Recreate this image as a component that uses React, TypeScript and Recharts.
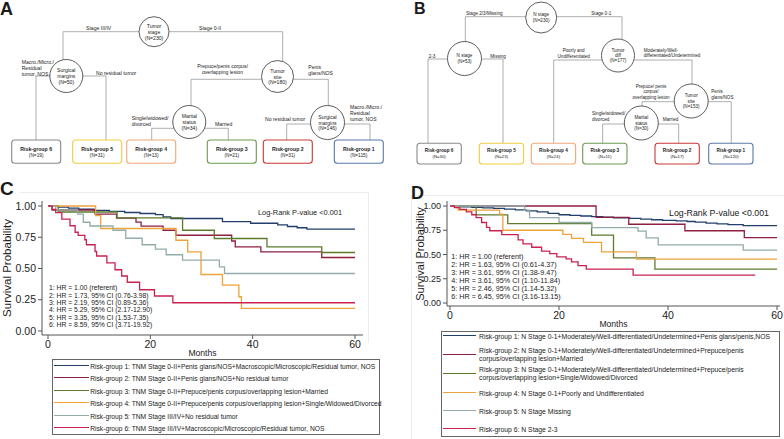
import React from "react";
import { LineChart, Line, XAxis, YAxis } from "recharts";

type Step = [number, number];

const monthTicks = [0, 20, 40, 60];
const survivalTicks = [0, 0.25, 0.5, 0.75, 1];

// panel C (TNM stage tree), [months, survival]
const cGroup1: Step[] = [[0, 1], [2, 0.991], [4, 0.983], [6, 0.974], [9, 0.965], [12, 0.957], [15, 0.948], [18, 0.94], [21, 0.931], [22.5, 0.913], [24, 0.9], [34.1, 0.875], [39.6, 0.862], [44.9, 0.849], [46.8, 0.836], [48.7, 0.826], [50.6, 0.815], [60, 0.815]];
const cGroup2: Step[] = [[0, 1], [0.8, 0.968], [9.2, 0.935], [13.4, 0.903], [17.2, 0.871], [18.2, 0.839], [22.5, 0.806], [25, 0.766], [35.9, 0.72], [36.6, 0.673], [41.6, 0.633], [53.5, 0.588], [60, 0.588]];
const cGroup3: Step[] = [[0, 1], [2, 0.952], [13.5, 0.905], [26.3, 0.806], [32.5, 0.74], [42.8, 0.673], [53.5, 0.628], [60, 0.628]];
const cGroup4: Step[] = [[0, 1], [9.3, 0.923], [10.3, 0.82], [25, 0.726], [27.3, 0.633], [29.9, 0.452], [34.1, 0.367], [37.3, 0.274], [37.8, 0.181], [60, 0.181]];
const cGroup5: Step[] = [[0, 1], [1.5, 0.968], [5.8, 0.935], [6.9, 0.87], [8.2, 0.84], [12.7, 0.806], [15.2, 0.742], [18.4, 0.69], [21, 0.655], [23.1, 0.61], [26.3, 0.567], [33.5, 0.513], [34.5, 0.46], [60, 0.46]];
const cGroup6: Step[] = [[0, 1], [0.8, 0.973], [1.5, 0.947], [2.7, 0.895], [4.3, 0.842], [5.3, 0.79], [5.9, 0.765], [7.2, 0.73], [7.5, 0.69], [9.2, 0.636], [9.5, 0.6], [11.5, 0.545], [13.1, 0.49], [14.4, 0.44], [15.5, 0.39], [17.9, 0.33], [20.8, 0.28], [24.4, 0.226], [60, 0.226]];

// panel D (N stage tree)
const dGroup1: Step[] = [[0, 1], [1, 0.995], [2, 0.99], [4, 0.985], [6, 0.98], [8, 0.975], [10, 0.968], [12, 0.96], [14, 0.95], [16, 0.94], [18, 0.925], [20, 0.91], [22, 0.903], [24, 0.897], [26, 0.89], [28, 0.884], [30, 0.878], [33, 0.872], [35, 0.865], [37, 0.858], [39, 0.852], [41.5, 0.846], [43.5, 0.84], [45, 0.833], [47, 0.823], [49, 0.815], [51, 0.808], [53.8, 0.798], [60, 0.798]];
const dGroup2: Step[] = [[0, 1], [26.8, 0.882], [32.8, 0.812], [43.1, 0.745], [54, 0.675], [60, 0.675]];
const dGroup3: Step[] = [[0, 1], [4.8, 0.909], [10.6, 0.818], [26, 0.7], [30, 0.465], [37.6, 0.35], [60, 0.35]];
const dGroup4: Step[] = [[0, 1], [1.5, 0.958], [9.1, 0.917], [9.7, 0.75], [20.7, 0.708], [22.3, 0.667], [24.5, 0.625], [27.8, 0.527], [34.2, 0.452], [60, 0.452]];
const dGroup5: Step[] = [[0, 1], [13.7, 0.957], [14.6, 0.88], [20, 0.83], [26, 0.778], [34.5, 0.74], [36, 0.671], [38.2, 0.6], [53.8, 0.545], [60, 0.545]];
const dGroup6: Step[] = [[0, 1], [0.8, 0.983], [1.8, 0.966], [3, 0.94], [4, 0.91], [4.8, 0.88], [5.8, 0.83], [6.7, 0.78], [7.3, 0.745], [9.5, 0.705], [12.5, 0.65], [13.4, 0.61], [15, 0.575], [16.8, 0.535], [18.3, 0.51], [19.6, 0.475], [21.3, 0.455], [22.3, 0.425], [23.5, 0.385], [25, 0.35], [33.6, 0.288], [56, 0.288]];

const groupColors = ["#223f6c", "#8e1f3f", "#5c7b2c", "#eea23a", "#93aba9", "#c9224f"];
const leafColors = ["#5878a8", "#c83838", "#6c9a50", "#f0a878", "#f0cd40", "#8a8a8a"];

const cHazards = [
  "1: HR = 1.00 (referent)",
  "2: HR = 1.73, 95% CI (0.76-3.98)",
  "3: HR = 2.19, 95% CI (0.89-5.36)",
  "4: HR = 5.29, 95% CI (2.17-12.90)",
  "5: HR = 3.35, 95% CI (1.53-7.35)",
  "6: HR = 8.59, 95% CI (3.71-19.92)"
];
const dHazards = [
  "1: HR = 1.00 (referent)",
  "2: HR = 1.63, 95% CI (0.61-4.37)",
  "3: HR = 3.61, 95% CI (1.38-9.47)",
  "4: HR = 3.61, 95% CI (1.10-11.84)",
  "5: HR = 2.46, 95% CI (1.14-5.32)",
  "6: HR = 6.45, 95% CI (3.16-13.15)"
];

const cLegend = [
  ["Risk-group 1: TNM Stage 0-II+Penis glans/NOS+Macroscopic/Microscopic/Residual tumor, NOS"],
  ["Risk-group 2: TNM Stage 0-II+Penis glans/NOS+No residual tumor"],
  ["Risk-group 3: TNM Stage 0-II+Prepuce/penis corpus/overlapping lesion+Married"],
  ["Risk-group 4: TNM Stage 0-II+Prepuce/penis corpus/overlapping lesion+Single/Widowed/Divorced"],
  ["Risk-group 5: TNM Stage III/IV+No residual tumor"],
  ["Risk-group 6: TNM Stage III/IV+Macroscopic/Microscopic/Residual tumor, NOS"]
];
const dLegend = [
  ["Risk-group 1: N Stage 0-1+Moderately/Well-differentiated/Undetermined+Penis glans/penis,NOS"],
  ["Risk-group 2: N Stage 0-1+Moderately/Well-differentiated/Undetermined+Prepuce/penis", "corpus/overlapping lesion+Married"],
  ["Risk-group 3: N Stage 0-1+Moderately/Well-differentiated/Undetermined+Prepuce/penis", "corpus/overlapping lesion+Single/Widowed/Divorced"],
  ["Risk-group 4: N Stage 0-1+Poorly and Undifferentiated"],
  ["Risk-group 5: N Stage Missing"],
  ["Risk-group 6: N Stage 2-3"]
];

// leaf sizes, left to right (risk group 6 .. 1)
const treeALeafN = [19, 31, 13, 21, 31, 115];
const treeBLeafN = [30, 23, 24, 11, 17, 120];

const font = '"Liberation Sans", Arial, sans-serif';

const toPoints = (steps: Step[]) => steps.map(([m, s]) => ({ m, s }));
const cSeries = [cGroup1, cGroup2, cGroup3, cGroup4, cGroup5, cGroup6].map(toPoints);
const dSeries = [dGroup1, dGroup2, dGroup3, dGroup4, dGroup5, dGroup6].map(toPoints);

function Txt({ x, y, size, children, anchor = "start", weight = 400, rotate = false }: any) {
  const tx = anchor === "middle" ? "-50%" : "0";
  return (
    <div
      style={{
        position: "absolute",
        left: x,
        top: y,
        fontSize: size,
        fontWeight: weight,
        lineHeight: 1,
        whiteSpace: "nowrap",
        color: "#1a1a1a",
        transform: rotate ? "translate(-50%,-50%) rotate(-90deg)" : `translate(${tx},-50%)`
      }}
    >
      {children}
    </div>
  );
}

function KmChart({ series, left, top, width, height, yWidth, right, xPad, yPad, tickSize, yTickSize }: any) {
  const axisStroke = "#555";
  return (
    <div style={{ position: "absolute", left, top }}>
      <LineChart width={width} height={height} margin={{ top: 6, right, bottom: 0, left: 0 }}>
        <XAxis
          dataKey="m"
          type="number"
          domain={[0, 60]}
          ticks={monthTicks}
          padding={xPad}
          height={24}
          tickSize={4}
          stroke={axisStroke}
          tick={{ fill: "#222", fontSize: tickSize }}
          label={{ value: "Months", position: "insideBottom", offset: 3, fill: "#222", fontSize: 8.6 }}
        />
        <XAxis xAxisId="top" orientation="top" type="number" domain={[0, 60]} padding={xPad} height={0} tick={false} tickLine={false} stroke={axisStroke} />
        <YAxis
          type="number"
          domain={[0, 1]}
          ticks={survivalTicks}
          padding={yPad}
          width={yWidth}
          tickSize={4}
          stroke={axisStroke}
          tick={{ fill: "#222", fontSize: yTickSize }}
          tickFormatter={(v: number) => v.toFixed(2)}
        />
        <YAxis yAxisId="right" orientation="right" type="number" domain={[0, 1]} padding={yPad} width={0} tick={false} tickLine={false} stroke={axisStroke} />
        {series.map((pts: any, i: number) => (
          <Line
            key={i}
            data={pts}
            dataKey="s"
            type="stepAfter"
            stroke={groupColors[i]}
            strokeWidth={1.3}
            dot={false}
            isAnimationActive={false}
          />
        ))}
      </LineChart>
    </div>
  );
}

function LegendBox({ items, left, top, width, height, rowTops, lineX, textX, size }: any) {
  return (
    <div style={{ position: "absolute", left, top, width, height, border: "1px solid #666", boxSizing: "border-box" }}>
      {items.map((lines: string[], i: number) => (
        <React.Fragment key={i}>
          <div
            style={{
              position: "absolute",
              left: lineX[0],
              width: lineX[1] - lineX[0],
              top: rowTops[i] - 1,
              borderTop: `1.3px solid ${groupColors[i]}`
            }}
          />
          {lines.map((t, j) => (
            <Txt key={j} x={textX} y={rowTops[i] + (lines.length > 1 ? -4 + j * 8.3 : 1)} size={size}>
              {t}
            </Txt>
          ))}
        </React.Fragment>
      ))}
    </div>
  );
}

function Node({ cx, cy, r, lines, size }: any) {
  const gap = size * 1.17;
  const start = cy - ((lines.length - 1) * gap) / 2;
  return (
    <g>
      <circle cx={cx} cy={cy} r={r} fill="#fff" stroke="#333" strokeWidth={0.8} />
      {lines.map((t: string, i: number) => (
        <text key={i} x={cx} y={start + i * gap} textAnchor="middle" dominantBaseline="central" fontSize={size}>
          {t}
        </text>
      ))}
    </g>
  );
}

function Leaf({ x, y, w, h, group, n, size }: any) {
  return (
    <g>
      <rect x={x} y={y} width={w} height={h} rx={3} fill="#fff" stroke={leafColors[group - 1]} strokeWidth={1.1} />
      <text x={x + w / 2} y={y + h * 0.37} textAnchor="middle" dominantBaseline="central" fontSize={size} fontWeight={700}>
        {`Risk-group ${group}`}
      </text>
      <text x={x + w / 2} y={y + h * 0.66} textAnchor="middle" dominantBaseline="central" fontSize={size * 0.92}>
        {`(N=${n})`}
      </text>
    </g>
  );
}

function EdgeLabel({ x, y, lines, size, anchor = "start", gap = 6 }: any) {
  return (
    <>
      {lines.map((t: string, i: number) => (
        <text key={i} x={x} y={y + i * gap} textAnchor={anchor} dominantBaseline="central" fontSize={size}>
          {t}
        </text>
      ))}
    </>
  );
}

function Trees() {
  const a = 5.1;
  const b = 4.6;
  const aLeafX = [11.7, 72.7, 126.7, 207.3, 263.3, 334.3];
  const bLeafX = [417, 479.3, 531.3, 582.7, 655, 708.7];
  return (
    <svg width={784} height={170} style={{ position: "absolute", left: 0, top: 0, fontFamily: font }} fill="#222">
      <g stroke="#9a9a9a" strokeWidth={0.8} fill="none">
        <path d="M63 31.7H282.7M63 31.7V60M282.7 31.7V61M36 76H106M36 76V140M106 76V140M191 79.3H328.3M191 79.3V106M328.3 79.3V106M151.7 128.3H228.3M151.7 128.3V140M228.3 128.3V140M286.7 124H370M286.7 124V140M370 124V140" />
        <path d="M465.3 16.7H622M465.3 16.7V42M622 16.7V39M428 59H503M428 59V143.3M503 59V143.3M553.7 60H692M553.7 60V143.3M692 60V85M642 101.7H731.3M642 101.7V106M731.3 101.7V143.3M602.7 124H678.7M602.7 124V143.3M678.7 124V143.3" />
      </g>

      <Node cx={154} cy={31.7} r={15} lines={["Tumor", "stage", "(N=230)"]} size={a} />
      <Node cx={66.3} cy={76} r={16.5} lines={["Surgical", "margins", "(N=50)"]} size={a} />
      <Node cx={277.5} cy={76.5} r={16} lines={["Tumor", "site", "(N=180)"]} size={a} />
      <Node cx={189.3} cy={122} r={16.5} lines={["Marital", "status", "(N=34)"]} size={a} />
      <Node cx={327.5} cy={122.5} r={17} lines={["Surgical", "margins", "(N=146)"]} size={a} />

      <EdgeLabel x={86} y={28.3} lines={["Stage III/IV"]} size={a} />
      <EdgeLabel x={199} y={28.3} lines={["Stage 0-II"]} size={a} />
      <EdgeLabel x={21.7} y={62.3} lines={["Macro./Micro./", "Residual", "tumor, NOS"]} size={a} />
      <EdgeLabel x={96} y={72.7} lines={["No residual tumor"]} size={a} />
      <EdgeLabel x={222.5} y={66} lines={["Prepuce/penis corpus/", "overlapping lesion"]} size={a} anchor="middle" />
      <EdgeLabel x={308.3} y={66.7} lines={["Penis", "glans/NOS"]} size={a} />
      <EdgeLabel x={131.7} y={118.3} lines={["Single/widowed/", "divorced"]} size={a} />
      <EdgeLabel x={215} y={124.3} lines={["Married"]} size={a} />
      <EdgeLabel x={265} y={119} lines={["No residual tumor"]} size={a} />
      <EdgeLabel x={350} y={107.3} lines={["Macro./Micro./", "Residual", "tumor, NOS"]} size={a} gap={5.7} />

      {treeALeafN.map((n, i) => (
        <Leaf key={i} x={aLeafX[i]} y={140} w={49} h={23.3} group={6 - i} n={n} size={5.2} />
      ))}

      <Node cx={541.2} cy={17.5} r={15.5} lines={["N stage", "(N=230)"]} size={b} />
      <Node cx={464.5} cy={58.5} r={17} lines={["N stage", "(N=53)"]} size={b} />
      <Node cx={618} cy={55.5} r={16.5} lines={["Tumor", "diff", "(N=177)"]} size={b} />
      <Node cx={691.2} cy={101} r={17} lines={["Tumor", "site", "(N=153)"]} size={b} />
      <Node cx={641.3} cy={123} r={17} lines={["Marital", "status", "(N=30)"]} size={b} />

      <EdgeLabel x={466} y={13.3} lines={["Stage 2/3/Missing"]} size={b} />
      <EdgeLabel x={591.3} y={13.3} lines={["Stage 0-1"]} size={b} />
      <EdgeLabel x={428.7} y={56.7} lines={["2-3"]} size={b} />
      <EdgeLabel x={490.3} y={56.7} lines={["Missing"]} size={b} />
      <EdgeLabel x={573.7} y={50.7} lines={["Poorly and", "Undifferentiated"]} size={b} anchor="middle" />
      <EdgeLabel x={643.7} y={50} lines={["Moderately/Well-", "differentiated/Undetermined"]} size={b} gap={5.4} />
      <EdgeLabel x={651} y={86} lines={["Prepuce/ penis", "corpus/", "overlapping lesion"]} size={b} anchor="middle" gap={5.6} />
      <EdgeLabel x={711.3} y={91.7} lines={["Penis", "glans/NOS"]} size={b} gap={5.6} />
      <EdgeLabel x={592} y={113.3} lines={["Single/widowed/", "divorced"]} size={b} gap={5.7} />
      <EdgeLabel x={662.7} y={119} lines={["Married"]} size={b} />

      {treeBLeafN.map((n, i) => (
        <Leaf key={i} x={bLeafX[i]} y={143.3} w={44.3} h={20.7} group={6 - i} n={n} size={4.7} />
      ))}
    </svg>
  );
}

export default function App() {
  return (
    <div style={{ position: "relative", width: 784, height: 439, background: "#fff", fontFamily: font, overflow: "hidden" }}>
      <style>{"body{margin:0}"}</style>
      <Trees />

      <div style={{ position: "absolute", left: 20, top: 192, width: 348, height: 150, borderTop: "1px solid #ececec", borderRight: "1px solid #ececec" }} />
      <div style={{ position: "absolute", left: 411, top: 195, width: 373, height: 244, borderTop: "1px solid #ececec", borderLeft: "1px solid #ececec" }} />

      <Txt x={0} y={8.5} size={18} weight={700}>A</Txt>
      <Txt x={414} y={9} size={16} weight={700}>B</Txt>
      <Txt x={0} y={187.5} size={19} weight={700}>C</Txt>
      <Txt x={411} y={192.5} size={18} weight={700}>D</Txt>

      <KmChart series={cSeries} left={0} top={195} width={370} height={164} yWidth={42} right={7} xPad={{ left: 6, right: 8 }} yPad={{ top: 5, bottom: 4 }} tickSize={10.5} yTickSize={10.5} />
      <Txt x={8} y={268} size={11.5} rotate>Survival Probability</Txt>
      <Txt x={258} y={213.3} size={7.4}>Log-Rank P-value &lt;0.001</Txt>
      {cHazards.map((t, i) => (
        <Txt key={i} x={49} y={288.3 + i * 7.35} size={6.8}>{t}</Txt>
      ))}

      <KmChart series={dSeries} left={400} top={195} width={384} height={135} yWidth={47} right={4} xPad={{ left: 3, right: 3 }} yPad={{ top: 5, bottom: 3 }} tickSize={10.5} yTickSize={9} />
      <Txt x={420} y={253.5} size={11} rotate>Survival Probability</Txt>
      <Txt x={669} y={212.7} size={8.8}>Log-Rank P-value &lt;0.001</Txt>
      {dHazards.map((t, i) => (
        <Txt key={i} x={451.3} y={256.7 + i * 8} size={7.2}>{t}</Txt>
      ))}

      <LegendBox items={cLegend} left={51.7} top={359.3} width={328.3} height={76} rowTops={[5.5, 18, 30.5, 43, 55.5, 67.5]} lineX={[1.5, 36.5]} textX={37.5} size={6.7} />
      <LegendBox items={dLegend} left={441} top={330.7} width={339} height={106.3} rowTops={[4.5, 23.5, 42.5, 61, 79.5, 97.5]} lineX={[1, 34]} textX={37} size={6.8} />
    </div>
  );
}
